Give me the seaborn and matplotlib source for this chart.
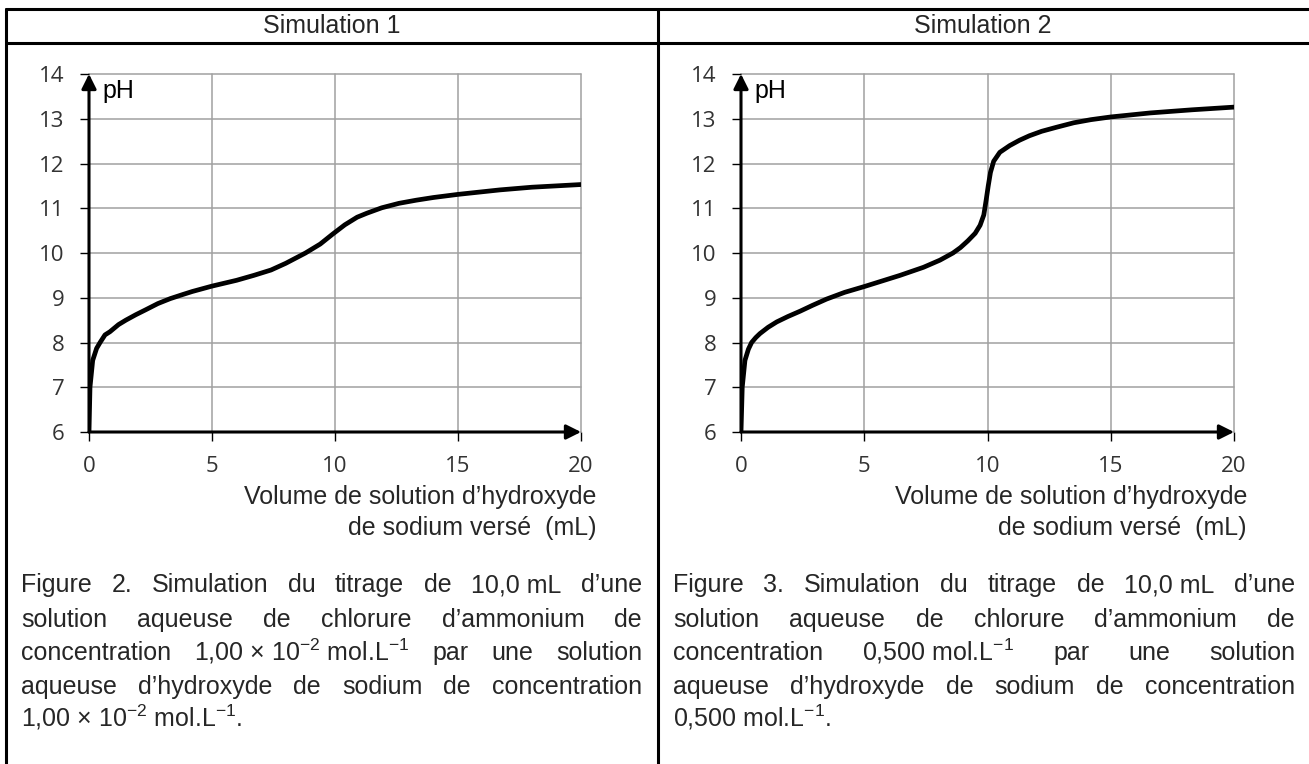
import numpy as np
import pandas as pd
import seaborn as sns
import matplotlib.pyplot as plt
from matplotlib.lines import Line2D

W, H = 1309, 764

# titrage 1 : NH4Cl 1,00e-2 mol/L par NaOH 1,00e-2 mol/L
vol_1 = [0, 0.04, 0.15, 0.31, 0.45, 0.65, 0.85, 1.2, 1.5, 1.9, 2.3, 2.8, 3.3, 3.8, 4.2,
         5.0, 6.0, 6.7, 7.4, 8.0, 8.8, 9.4, 9.9, 10.4, 10.9, 11.3, 11.9, 12.6, 13.3, 14.0,
         15.0, 16.7, 18.0, 20.0]
ph_1 = [6.0, 7.0, 7.6, 7.87, 8.0, 8.17, 8.24, 8.4, 8.5, 8.62, 8.73, 8.87, 8.98, 9.07, 9.14,
        9.26, 9.39, 9.5, 9.62, 9.77, 10.0, 10.2, 10.42, 10.63, 10.8, 10.89, 11.01, 11.11,
        11.18, 11.24, 11.31, 11.41, 11.47, 11.53]

# titrage 2 : NH4Cl 0,500 mol/L par NaOH 0,500 mol/L
vol_2 = [0, 0.05, 0.16, 0.3, 0.43, 0.6, 0.77, 1.1, 1.45, 1.9, 2.4, 2.9, 3.47, 4.2, 5.0,
         6.45, 7.4, 8.07, 8.6, 8.9, 9.2, 9.5, 9.7, 9.85, 9.95, 10.03, 10.12, 10.25, 10.5,
         10.9, 11.3, 11.7, 12.2, 12.8, 13.5, 14.2, 15.0, 16.6, 18.3, 20.0]
ph_2 = [6.0, 7.0, 7.6, 7.85, 8.0, 8.11, 8.2, 8.34, 8.46, 8.58, 8.7, 8.83, 8.97, 9.12, 9.25,
        9.5, 9.68, 9.84, 10.0, 10.12, 10.27, 10.44, 10.62, 10.85, 11.2, 11.5, 11.8, 12.05,
        12.25, 12.4, 12.52, 12.62, 12.72, 12.81, 12.91, 12.98, 13.04, 13.13, 13.2, 13.26]

x_ticks = [0, 5, 10, 15, 20]
y_ticks = list(range(6, 15))

headers = ["Simulation 1", "Simulation 2"]
xlabel_lines = ["Volume de solution d\u2019hydroxyde", "de sodium vers\u00e9  (mL)"]

caption_1 = [
    ["Figure", "2.", "Simulation", "du", "titrage", "de", "10,0\u00a0mL", "d\u2019une"],
    ["solution", "aqueuse", "de", "chlorure", "d\u2019ammonium", "de"],
    ["concentration", "1,00 \u00d7 10$^{-2}$ mol.L$^{-1}$", "par", "une", "solution"],
    ["aqueuse", "d\u2019hydroxyde", "de", "sodium", "de", "concentration"],
    ["1,00 \u00d7 10$^{-2}$ mol.L$^{-1}$."],
]
caption_2 = [
    ["Figure", "3.", "Simulation", "du", "titrage", "de", "10,0\u00a0mL", "d\u2019une"],
    ["solution", "aqueuse", "de", "chlorure", "d\u2019ammonium", "de"],
    ["concentration", "0,500 mol.L$^{-1}$", "par", "une", "solution"],
    ["aqueuse", "d\u2019hydroxyde", "de", "sodium", "de", "concentration"],
    ["0,500 mol.L$^{-1}$."],
]

sns.set_style("white")
plt.rcParams['font.family'] = ['Liberation Sans', 'DejaVu Sans']
plt.rcParams['mathtext.default'] = 'regular'

fig = plt.figure(figsize=(W / 100, H / 100), dpi=100)


def fx(px):
    return px / W


def fy(py):
    return 1 - py / H


def draw_chart(ax, vol, ph):
    sns.lineplot(x=vol, y=ph, ax=ax, color='black', linewidth=3.4,
                 estimator=None, sort=False, zorder=4, solid_capstyle='round',
                 solid_joinstyle='round')
    ax.set_xlim(0, 20)
    ax.set_ylim(6, 14)
    ax.set_xticks(x_ticks)
    ax.set_yticks(y_ticks)
    ax.set_xlabel('')
    ax.set_ylabel('')
    for s in ax.spines.values():
        s.set_visible(False)
    ax.grid(True, color='#a0a0a0', linewidth=1.1)
    for gl in ax.get_xgridlines() + ax.get_ygridlines():
        gl.set_clip_on(False)
    ax.tick_params(axis='both', direction='out', length=6.5, width=1.0, color='black',
                   labelsize=16, labelcolor='#333333', left=True, bottom=True)
    ax.tick_params(axis='y', pad=11)
    ax.tick_params(axis='x', pad=11)
    for lab in ax.get_xticklabels() + ax.get_yticklabels():
        lab.set_fontfamily('Open Sans')
    # axes flechees
    ax.annotate('', xy=(0, 1), xytext=(0, 0), xycoords='axes fraction',
                arrowprops=dict(arrowstyle='-|>', color='black', lw=2.2,
                                mutation_scale=22, shrinkA=0, shrinkB=0),
                annotation_clip=False, zorder=5)
    ax.annotate('', xy=(1, 0), xytext=(0, 0), xycoords='axes fraction',
                arrowprops=dict(arrowstyle='-|>', color='black', lw=2.2,
                                mutation_scale=22, shrinkA=0, shrinkB=0),
                annotation_clip=False, zorder=5)
    ax.text(0.55, 13.62, 'pH', ha='left', va='center', fontsize=18, color='black')


ax1 = fig.add_axes([fx(89), fy(432), 492 / W, 358 / H])
ax2 = fig.add_axes([fx(741), fy(432), 493 / W, 358 / H])
draw_chart(ax1, vol_1, ph_1)
draw_chart(ax2, vol_2, ph_2)

# cadre du tableau
lw_tab = 2.2
for (x0, y0, x1, y1) in [(6, 9, W, 9), (6, 43, W, 43), (6, 9, 6, H), (658, 9, 658, H)]:
    fig.add_artist(Line2D([fx(x0), fx(x1)], [fy(y0), fy(y1)], color='black',
                          linewidth=lw_tab, transform=fig.transFigure))

fig.text(fx(332), fy(26), headers[0], ha='center', va='center', fontsize=18)
fig.text(fx(983), fy(26), headers[1], ha='center', va='center', fontsize=18)

for right in (596, 1247):
    fig.text(fx(right), fy(497), xlabel_lines[0], ha='right', va='center', fontsize=18)
    fig.text(fx(right), fy(528), xlabel_lines[1], ha='right', va='center', fontsize=18)

FS = 18
renderer = fig.canvas.get_renderer()


def justify(lines, left, right, baselines):
    for i, (words, yb) in enumerate(zip(lines, baselines)):
        objs = [fig.text(fx(left), fy(yb), w, ha='left', va='baseline', fontsize=FS)
                for w in words]
        widths = [o.get_window_extent(renderer).width for o in objs]
        if i == len(lines) - 1 or len(objs) == 1:
            gap = 6.5
        else:
            gap = (right - left - sum(widths)) / (len(objs) - 1)
        x = left
        for o, w in zip(objs, widths):
            o.set_x(fx(x))
            x += w + gap


baselines = [592, 627, 660, 694, 727]
justify(caption_1, 21, 642, baselines)
justify(caption_2, 673, 1295, baselines)

fig.savefig('out.png', dpi=100)
